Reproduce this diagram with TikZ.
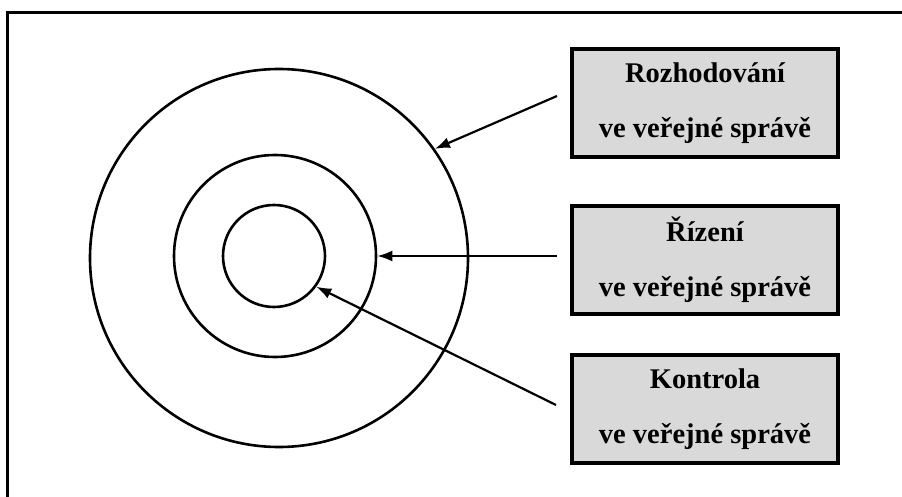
\documentclass[tikz,border=0pt]{standalone}
\usepackage{fontspec}
\setmainfont{Liberation Serif}
\usetikzlibrary{arrows.meta}
\tikzset{
  ring/.style={circle, draw, line width=2.6pt, inner sep=0pt},
  infobox/.style={draw, line width=3.2pt, fill=boxgray, minimum width=266pt, minimum height=108pt,
    align=center, font=\fontsize{28.5}{55}\selectfont\bfseries},
  pointer/.style={line width=2.2pt, -{Latex[length=15pt,width=11pt]}},
}
\definecolor{boxgray}{HTML}{D9D9D9}
\begin{document}
\begin{tikzpicture}[x=1pt,y=-1pt]
\useasboundingbox (0,0) rectangle (902,497);
\clip (0,0) rectangle (902,497);
\draw[line width=3pt] (7,13) rectangle (940,540);
\node[ring, minimum size=378pt] (outer) at (279,258) {};
\node[ring, minimum size=202pt] (middle) at (275,256) {};
\node[ring, minimum size=102pt] (inner) at (274,256) {};
\node[infobox] (b1) at (705,103) {Rozhodování\\ve veřejné správě};
\node[infobox] (b2) at (705,260) {Řízení\\ve veřejné správě};
\node[infobox] (b3) at (705,409) {Kontrola\\ve veřejné správě};
\coordinate (s1) at (557,96);
\coordinate (s2) at (557,256);
\coordinate (s3) at (556,405);
\draw[pointer] (s1) -- (outer.35);
\draw[pointer] (s2) -- (middle.0);
\draw[pointer] (s3) -- (inner.-36);
\end{tikzpicture}
\end{document}
